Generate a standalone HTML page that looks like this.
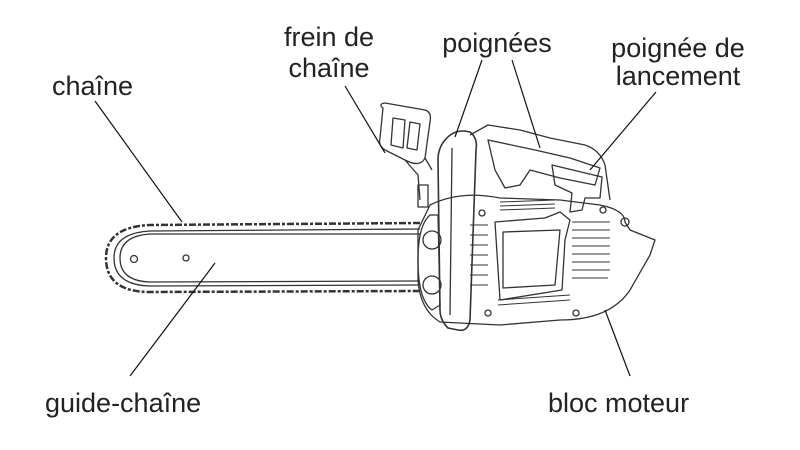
<!DOCTYPE html>
<html><head><meta charset="utf-8"><style>
html,body{margin:0;padding:0;background:#fff;width:800px;height:450px;overflow:hidden}
text{font-family:"Liberation Sans","DejaVu Sans",sans-serif;font-size:27px;fill:#222}
</style></head><body>
<svg width="800" height="450" viewBox="0 0 800 450" xmlns="http://www.w3.org/2000/svg">
<g fill="none" stroke="#333" stroke-width="1.3" stroke-linejoin="round">
<!-- chain outer -->
<path d="M420,223 L150,225 Q106,227 106,258 Q106,292 150,292 L420,291" stroke-width="2.5" stroke-dasharray="7 2 3 2"/>
<path d="M420,229 L150,231 Q114,233 114,258 Q114,285 150,286 L420,285"/>
<!-- bar -->
<path d="M420,234 L150,234 Q120,236 120,258 Q120,281 150,282 L420,281"/>
<circle cx="134" cy="259" r="3.5"/><circle cx="186" cy="258" r="3"/>
<!-- brake guard -->
<path d="M383,108 Q378,104 385,103 L425,110 Q432,112 430,122 L425,158 Q420,168 405,160 L385,150 Q378,146 380,138 Z"/>
<path d="M393,118 L405,120 L403,148 L391,145 Z M410,122 L420,124 L417,150 L407,148 Z"/>
<path d="M405,160 L418,175 L420,200 M425,158 L432,170"/>
<rect x="418" y="185" width="10" height="22"/>
<!-- top handle -->
<path d="M470,135 L488,125 L520,130 L550,138 L585,145 Q600,150 605,165 L610,200"/>
<path d="M488,140 L535,150 L570,158 L600,168 L595,185 L560,178 L530,170 L520,185 L505,188 L495,170 Z"/>
<!-- starter handle -->
<path d="M552,165 L602,177 L600,198 L585,198 L582,210 L570,212 L572,193 L555,185 Z"/>
<!-- body -->
<path d="M430,205 Q460,190 500,198 L560,200 L600,205 Q625,210 625,222 L630,230 L655,240 L650,255 L630,290 Q610,320 560,320 L500,325 L440,322 Q420,310 418,280 L418,230 Z"/>
<path d="M495,222 L545,218 L560,212 L570,220 L565,240 L562,290 L500,300 Z"/>
<path d="M503,232 L560,230 L555,285 L503,288 Z"/>
<g stroke-width="1">
<path d="M500,202 L555,200 M500,206 L555,204 M500,210 L555,208"/>
<path d="M572,222 L610,222 M572,230 L610,230 M572,238 L610,238 M572,246 L610,246 M572,254 L610,254 M572,262 L610,262 M572,270 L610,270 M572,278 L608,278"/>
<path d="M470,225 L488,225 M470,235 L488,235 M470,245 L488,245 M470,255 L488,255 M470,265 L488,265 M470,275 L488,275 M470,285 L488,285"/>
<path d="M498,300 L570,295 M498,305 L570,300"/>
</g>
<!-- front handle / hand guard -->
<path d="M445,140 Q455,128 470,132 Q478,138 476,150 L470,320 Q468,332 458,330 L448,328 Q440,320 440,310 L438,160 Q438,148 445,140 Z" stroke-width="1.6"/>
<path d="M452,148 L450,315"/>
<!-- sprocket cover -->
<path d="M430,215 Q418,225 418,260 Q418,300 432,310 L440,305 L438,215 Z"/>
<circle cx="432" cy="240" r="9"/><circle cx="432" cy="285" r="9"/>
<circle cx="482" cy="213" r="3"/><circle cx="488" cy="313" r="3"/><circle cx="576" cy="313" r="3"/><circle cx="603" cy="210" r="3"/><circle cx="625" cy="222" r="4"/>
</g>
<!-- leader lines -->
<g stroke="#111" stroke-width="1.2">
<line x1="95" y1="101" x2="182" y2="222"/>
<line x1="345" y1="86" x2="385" y2="153"/>
<line x1="482" y1="60" x2="455" y2="137"/>
<line x1="512" y1="60" x2="540" y2="148"/>
<line x1="656" y1="92" x2="590" y2="170"/>
<line x1="130" y1="376" x2="215" y2="263"/>
<line x1="605" y1="310" x2="630" y2="376"/>
</g>
<text x="52" y="95">chaîne</text>
<text x="329" y="46" text-anchor="middle">frein de</text>
<text x="329" y="77" text-anchor="middle">chaîne</text>
<text x="497" y="52" text-anchor="middle">poignées</text>
<text x="678" y="57" text-anchor="middle">poignée de</text>
<text x="678" y="85" text-anchor="middle">lancement</text>
<text x="45" y="412">guide-chaîne</text>
<text x="548" y="412">bloc moteur</text>
</svg>
</body></html>
